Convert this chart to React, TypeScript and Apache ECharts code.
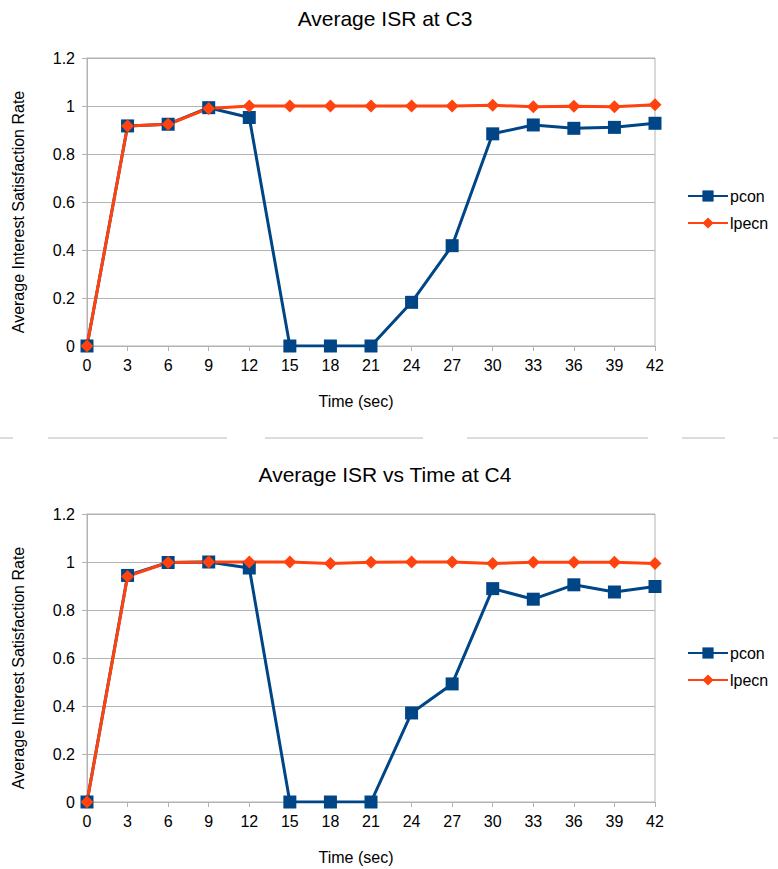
import React, { useEffect, useRef } from "react";
import * as echarts from "echarts";

const timeLabels = ["0", "3", "6", "9", "12", "15", "18", "21", "24", "27", "30", "33", "36", "39", "42"];
const c3Pcon = [0, 0.917, 0.924, 0.993, 0.952, 0, 0, 0, 0.182, 0.418, 0.884, 0.921, 0.907, 0.911, 0.928];
const c3Lpecn = [0, 0.917, 0.924, 0.99, 1.0, 1.0, 1.0, 1.0, 1.0, 1.0, 1.003, 0.997, 0.999, 0.997, 1.005];
const c4Pcon = [0, 0.944, 0.998, 1.0, 0.975, 0, 0, 0, 0.371, 0.492, 0.889, 0.845, 0.905, 0.875, 0.898];
const c4Lpecn = [0, 0.94, 0.998, 1.0, 1.0, 1.0, 0.994, 0.999, 1.0, 1.0, 0.994, 0.999, 0.999, 0.999, 0.994];
const titles = ["Average ISR at C3", "Average ISR vs Time at C4"];
const seriesNames = ["pcon", "lpecn"];

const FONT = "Liberation Sans";
const BLUE = "#004586";
const ORANGE = "#ff420e";
const GRIDC = "#b3b3b3";

export default function App() {
  const ref = useRef<HTMLDivElement>(null);
  useEffect(() => {
    if (!ref.current) return;
    const chart = echarts.init(ref.current, undefined, { renderer: "svg" });
    const tops = [58, 514];
    const xAxis = tops.map((_, i) => ({
      type: "category",
      gridIndex: i,
      data: timeLabels,
      boundaryGap: false,
      name: "Time (sec)",
      nameLocation: "middle",
      nameGap: 47,
      nameTextStyle: { fontFamily: FONT, fontSize: 16, color: "#000", padding: [0, 30, 0, 0] },
      axisLine: { lineStyle: { color: GRIDC, width: 1 } },
      axisTick: { show: true, length: 5, lineStyle: { color: GRIDC } },
      axisLabel: { fontFamily: FONT, fontSize: 16, color: "#000", margin: 11 },
      splitLine: { show: false },
    }));
    const yAxis = tops.map((_, i) => ({
      type: "value",
      gridIndex: i,
      min: 0,
      max: 1.2,
      interval: 0.2,
      name: "Average Interest Satisfaction Rate",
      nameLocation: "middle",
      nameRotate: 90,
      nameGap: 61,
      nameTextStyle: { fontFamily: FONT, fontSize: 16, color: "#000", padding: [0, 20, 0, 0] },
      axisLine: { show: true, lineStyle: { color: GRIDC, width: 1 } },
      axisTick: { show: true, length: 5, lineStyle: { color: GRIDC } },
      axisLabel: { fontFamily: FONT, fontSize: 16, color: "#000", margin: 12 },
      splitLine: { show: true, lineStyle: { color: GRIDC, width: 1 } },
    }));
    const mk = (name: string, data: number[], idx: number, color: string, symbol: string, size: number) => ({
      name,
      type: "line",
      xAxisIndex: idx,
      yAxisIndex: idx,
      data,
      symbol,
      symbolSize: size,
      lineStyle: { color, width: 3 },
      itemStyle: { color },
    });
    const legendCommon = {
      orient: "vertical",
      itemWidth: 40,
      itemHeight: 14,
      itemGap: 11,
      data: seriesNames,
      textStyle: { fontFamily: FONT, fontSize: 16, color: "#000", padding: [0, 0, 0, -3] },
    };
    chart.setOption({
      animation: false,
      backgroundColor: "#fff",
      title: tops.map((t, i) => ({
        text: titles[i],
        left: 380,
        top: i === 0 ? 3 : 459,
        textAlign: "center",
        textStyle: { fontFamily: FONT, fontSize: 21, fontWeight: "normal", color: "#000" },
      })),
      legend: [
        { ...legendCommon, left: 682, top: 183 },
        { ...legendCommon, left: 682, top: 640 },
      ],
      grid: tops.map((t) => ({
        left: 87,
        top: t,
        width: 568,
        height: 288,
        show: true,
        borderColor: GRIDC,
        borderWidth: 1,
      })),
      xAxis,
      yAxis,
      series: [
        mk("pcon", c3Pcon, 0, BLUE, "rect", 13),
        mk("lpecn", c3Lpecn, 0, ORANGE, "diamond", 13),
        mk("pcon", c4Pcon, 1, BLUE, "rect", 13),
        mk("lpecn", c4Lpecn, 1, ORANGE, "diamond", 13),
      ],
      graphic: [
        [0, 13],
        [48, 227],
        [265, 423],
        [467, 648],
        [682, 725],
        [773, 778],
      ].map(([a, b]) => ({
        type: "line",
        shape: { x1: a, y1: 438, x2: b, y2: 438 },
        style: { stroke: "#dcdcdc", lineWidth: 2 },
        silent: true,
      })),
    });
    return () => chart.dispose();
  }, []);
  return <div ref={ref} style={{ position: "absolute", left: 0, top: 0, width: 778, height: 869 }} />;
}
